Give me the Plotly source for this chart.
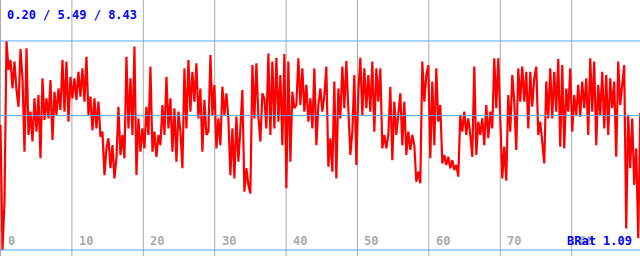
import numpy as np
import plotly.graph_objects as go

# ---- data, six consecutive segments of the trace ----
seg1 = [5.12, 0.20, 2.10, 8.43, 7.29, 7.68, 6.56, 7.62, 6.50, 5.84, 8.11, 6.96, 4.07, 8.14,
        4.73, 5.65, 4.47, 6.17, 4.86, 6.30, 3.81, 6.96, 5.32, 6.17, 5.38, 6.89, 4.53, 6.43,
        5.52, 6.56, 5.71, 7.68, 5.65, 7.62, 5.25, 7.02, 6.17, 6.96, 6.11, 7.22, 6.24, 7.35,
        6.04, 7.81, 5.52, 6.24, 4.92, 6.17, 4.99, 6.04, 4.66, 4.86, 3.15, 4.20]
seg2 = [4.60, 3.42, 4.33, 3.02, 3.81, 5.84, 3.94, 4.73, 3.81, 7.81, 4.99, 6.96, 4.73, 8.21,
        3.15, 5.38, 4.07, 4.99, 4.20, 5.84, 4.73, 7.42, 4.07, 4.86, 3.87, 4.73, 4.33, 5.91,
        4.73, 7.02, 4.99, 6.17, 4.07, 5.78, 3.68, 5.65, 4.86, 3.42, 7.35, 4.99, 7.68, 5.65,
        7.22, 6.04, 7.55, 5.38, 6.56, 4.07, 6.11, 4.73, 4.86, 7.88, 5.52]
seg3 = [6.70, 4.20, 5.38, 4.33, 6.63, 5.52, 6.37, 5.38, 3.15, 4.99, 3.02, 5.45, 3.68, 4.99,
        6.50, 2.50, 3.42, 2.76, 2.43, 7.48, 5.38, 7.55, 5.45, 4.47, 6.37, 6.17, 4.99, 7.94,
        4.73, 7.62, 4.99, 7.77, 5.25, 7.09, 4.33, 7.92, 2.63, 7.62, 3.68, 6.43, 5.78, 5.91,
        7.75, 5.91, 7.35, 5.65, 6.70, 5.25, 6.17, 4.99, 7.35, 4.33, 5.91, 6.56]
seg4 = [5.65, 6.30, 7.42, 3.48, 4.60, 3.28, 6.83, 3.02, 6.56, 5.38, 7.42, 5.78, 7.64, 5.78,
        3.94, 4.86, 7.09, 3.55, 6.43, 7.77, 5.52, 7.35, 5.78, 7.09, 5.65, 7.62, 4.86, 7.35,
        6.04, 7.35, 4.20, 4.73, 4.20, 4.73, 6.63, 3.74, 6.04, 4.73, 5.52, 6.37, 4.33, 6.04,
        3.94, 4.86, 4.14, 4.73, 4.33, 2.89, 3.28, 2.83, 7.62, 6.04, 7.09]
seg5 = [7.48, 3.81, 6.83, 4.33, 7.35, 5.25, 5.91, 3.61, 3.94, 3.55, 3.87, 3.42, 3.74, 3.35,
        3.55, 3.09, 5.52, 4.86, 5.65, 4.73, 5.38, 4.73, 3.87, 7.42, 3.94, 5.25, 4.73, 5.38,
        4.33, 5.91, 4.60, 5.65, 4.99, 7.75, 5.78, 7.75, 5.25, 3.02, 4.27, 2.93, 6.30, 4.86,
        7.09, 6.04, 4.14, 7.35, 6.04, 7.42, 6.04, 7.22, 4.99, 7.22, 5.84, 6.96]
seg6 = [7.42, 4.73, 5.25, 4.33, 3.61, 6.83, 5.38, 7.35, 5.38, 7.22, 5.65, 7.72, 4.27, 7.48,
        4.20, 6.56, 5.65, 7.35, 4.86, 6.30, 5.52, 6.70, 5.45, 6.83, 5.78, 6.96, 4.73, 7.75,
        5.65, 7.62, 4.33, 6.70, 5.52, 7.22, 4.99, 7.09, 4.73, 6.96, 5.78, 6.83, 3.87, 7.62,
        5.91, 6.70, 7.48, 1.05, 5.52, 3.42, 5.38, 2.76, 4.20, 0.66, 5.58]

values = seg1 + seg2 + seg3 + seg4 + seg5 + seg6
sample_step = 0.28                      # x spacing between samples
x = np.arange(len(values)) * sample_step

stat_lines = [0.20, 5.49, 8.43]         # min / mean / max
x_ticks = [0, 10, 20, 30, 40, 50, 60, 70, 80]
header_text = "0.20 / 5.49 / 8.43"
footer_text = "BRat 1.09"

X_RANGE = [-0.07, 89.57]
Y_RANGE = [-0.035, 10.043]
FONT = "DejaVu Sans Mono"

fig = go.Figure()
fig.add_trace(go.Scatter(x=x, y=values, mode="lines",
                         line=dict(color="#ff0000", width=2.2),
                         hoverinfo="skip", showlegend=False))

shapes = []
for t in x_ticks:
    shapes.append(dict(type="line", xref="x", yref="paper", x0=t, x1=t, y0=0, y1=1,
                       line=dict(color="#aaaaaa", width=1), layer="below"))
for v in stat_lines:
    shapes.append(dict(type="line", xref="paper", yref="y", x0=0, x1=1, y0=v, y1=v,
                       line=dict(color="#55aaff", width=1), layer="above"))

annotations = []
for t in x_ticks:
    annotations.append(dict(x=t, y=0.0586, xref="x", yref="paper", text=str(t),
                            xanchor="left", yanchor="middle", xshift=5, showarrow=False,
                            font=dict(family=FONT, size=12, color="#aaaaaa", weight="bold")))
annotations.append(dict(x=5/640, y=1 - 15/256, xref="paper", yref="paper", text=header_text,
                        xanchor="left", yanchor="middle", showarrow=False,
                        font=dict(family=FONT, size=12, color="#0000ff", weight="bold")))
annotations.append(dict(x=634/640, y=0.0586, xref="paper", yref="paper", text=footer_text,
                        xanchor="right", yanchor="middle", showarrow=False,
                        font=dict(family=FONT, size=12, color="#0000ff", weight="bold")))

fig.update_layout(
    width=640, height=256, margin=dict(l=0, r=0, t=0, b=0),
    paper_bgcolor="white", plot_bgcolor="white",
    xaxis=dict(range=X_RANGE, showgrid=False, zeroline=False, showticklabels=False, ticks=""),
    yaxis=dict(range=Y_RANGE, showgrid=False, zeroline=False, showticklabels=False, ticks=""),
    shapes=shapes, annotations=annotations,
)
fig.write_html("out.html")
